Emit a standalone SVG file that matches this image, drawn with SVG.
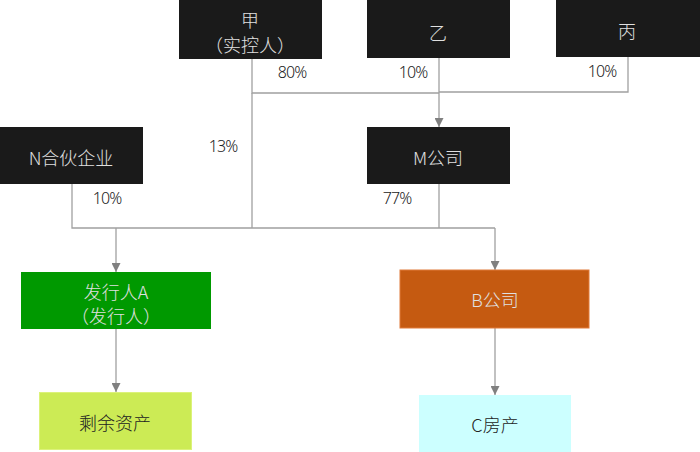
<svg xmlns="http://www.w3.org/2000/svg" width="700" height="452" viewBox="0 0 700 452">
<style>
.dark{fill:#1a1a1a}
.nt{font-family:"Noto Sans CJK SC","Liberation Sans",sans-serif;font-size:18px;font-weight:300;text-anchor:middle;dominant-baseline:central}
.w{fill:#e0e0e0}
.k{fill:#222}
.pct{font-family:"Noto Sans","Liberation Sans",sans-serif;font-weight:300;font-size:16px;text-anchor:middle;dominant-baseline:central;fill:#222;letter-spacing:-1px}
.ln{fill:none;stroke:#a0a0a0;stroke-width:1.3}
</style>
<defs>
<marker id="ah" viewBox="0 0 10 10" refX="10" refY="5" markerWidth="9" markerHeight="9" markerUnits="userSpaceOnUse" orient="auto">
<path d="M0,0 L10,5 L0,10 Z" fill="#808080"/>
</marker>
</defs>
<rect width="700" height="452" fill="#fff"/>
<g id="connectors">
<polyline class="ln" points="252,58 252,93 439,93"/>
<polyline class="ln" points="628,57 628,92 439,92"/>
<line class="ln" x1="439" y1="58" x2="439" y2="127" marker-end="url(#ah)"/>
<polyline class="ln" points="72,184 72,228 495,228"/>
<line class="ln" x1="252" y1="93" x2="252" y2="228"/>
<line class="ln" x1="439" y1="184" x2="439" y2="228"/>
<line class="ln" x1="116" y1="228" x2="116" y2="272" marker-end="url(#ah)"/>
<line class="ln" x1="495" y1="228" x2="495" y2="270" marker-end="url(#ah)"/>
<line class="ln" x1="116" y1="329" x2="116" y2="392" marker-end="url(#ah)"/>
<line class="ln" x1="495" y1="328" x2="495" y2="395" marker-end="url(#ah)"/>
<text class="pct" x="292" y="72">80%</text>
<text class="pct" x="413" y="72">10%</text>
<text class="pct" x="602" y="71">10%</text>
<text class="pct" x="223" y="146">13%</text>
<text class="pct" x="107" y="198">10%</text>
<text class="pct" x="397" y="198">77%</text>
</g>
<g id="jia">
<rect class="dark" x="179" y="0" width="143" height="59"/>
<text class="nt w" x="250" y="19">甲</text>
<text class="nt w" x="250" y="44">（实控人）</text>
</g>
<g id="yi">
<rect class="dark" x="367" y="0" width="143" height="58"/>
<text class="nt w" x="438" y="32">乙</text>
</g>
<g id="bing">
<rect class="dark" x="556" y="0" width="144" height="57"/>
<text class="nt w" x="627" y="30">丙</text>
</g>
<g id="n">
<rect class="dark" x="0" y="127" width="143" height="57"/>
<text class="nt w" x="71" y="157">N合伙企业</text>
</g>
<g id="m">
<rect class="dark" x="367" y="127" width="143" height="57"/>
<text class="nt w" x="438" y="157">M公司</text>
</g>
<g id="issuer">
<rect x="21" y="272" width="190" height="57" fill="#009900"/>
<text class="nt w" x="116" y="291">发行人A</text>
<text class="nt w" x="116" y="315">（发行人）</text>
</g>
<g id="b">
<rect x="400" y="270" width="189" height="58" fill="#c55a11" stroke="#e07a3a" stroke-width="1"/>
<text class="nt w" x="495" y="299">B公司</text>
</g>
<g id="remain">
<rect x="39.5" y="392.5" width="152" height="57" fill="#cceb55" stroke="#dcf27a" stroke-width="1"/>
<text class="nt k" x="115" y="422">剩余资产</text>
</g>
<g id="c">
<rect x="419" y="395" width="152" height="57" fill="#ccffff"/>
<text class="nt k" x="495" y="424">C房产</text>
</g>
</svg>
